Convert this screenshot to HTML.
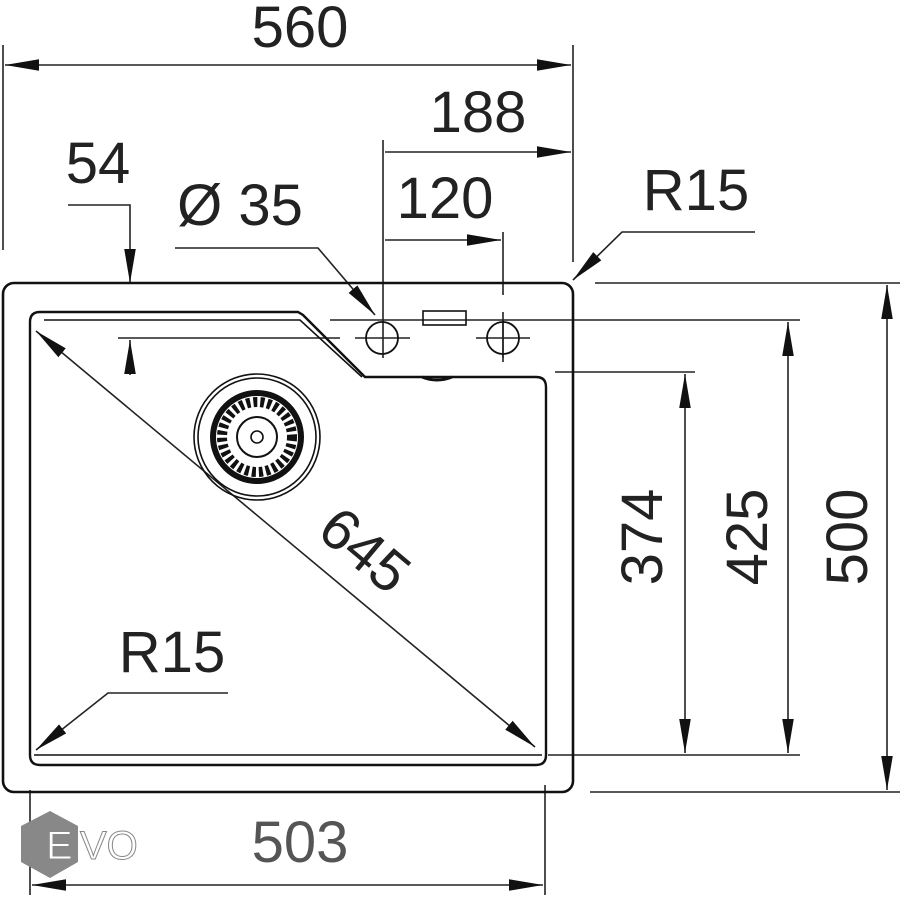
<!DOCTYPE html>
<html><head><meta charset="utf-8"><style>html,body{margin:0;padding:0;background:#fff}svg{display:block}</style></head>
<body>
<svg width="900" height="900" viewBox="0 0 900 900" xmlns="http://www.w3.org/2000/svg">
<defs>
<marker id="b" viewBox="0 0 10 10" refX="10" refY="5" markerWidth="34" markerHeight="34" markerUnits="userSpaceOnUse" orient="auto-start-reverse">
<path d="M0,3.3 L10,5 L0,6.7z" fill="#111"/></marker>
</defs>
<g fill="none" stroke="#222" stroke-width="1.6">
<line x1="3" y1="45" x2="3" y2="250"/>
<line x1="573" y1="45" x2="573" y2="262"/>
<line x1="383" y1="140" x2="383" y2="358"/>
<line x1="503" y1="232" x2="503" y2="295"/>
<line x1="503" y1="312" x2="503" y2="362"/>
<line x1="595" y1="283" x2="900" y2="283"/>
<line x1="590" y1="792" x2="900" y2="792"/>
<line x1="330" y1="320" x2="800" y2="320"/>
<line x1="555" y1="372" x2="695" y2="372"/>
<line x1="548" y1="755" x2="800" y2="755"/>
<line x1="30" y1="790" x2="30" y2="895"/>
<line x1="545" y1="785" x2="545" y2="895"/>
<line x1="118" y1="338" x2="340" y2="338"/>
<line x1="355" y1="338" x2="410" y2="338"/>
<line x1="476" y1="338" x2="530" y2="338"/>
<line x1="503" y1="320" x2="503" y2="358"/>
<line x1="5" y1="65" x2="571" y2="65" marker-start="url(#b)" marker-end="url(#b)"/>
<line x1="385" y1="152" x2="571" y2="152" marker-end="url(#b)"/>
<line x1="385" y1="240" x2="501" y2="240" marker-end="url(#b)"/>
<polyline points="68,205 130,205 130,283" marker-end="url(#b)"/>
<line x1="130" y1="375" x2="130" y2="340" marker-end="url(#b)"/>
<polyline points="175,248 318,248 375,315" marker-end="url(#b)"/>
<polyline points="755,232 622,232 573,280" marker-end="url(#b)"/>
<line x1="36" y1="331" x2="535" y2="747" marker-start="url(#b)" marker-end="url(#b)"/>
<polyline points="228,693 108,693 36,750" marker-end="url(#b)"/>
<line x1="685" y1="374" x2="685" y2="753" marker-start="url(#b)" marker-end="url(#b)"/>
<line x1="788" y1="322" x2="788" y2="753" marker-start="url(#b)" marker-end="url(#b)"/>
<line x1="887" y1="285" x2="887" y2="790" marker-start="url(#b)" marker-end="url(#b)"/>
<line x1="32" y1="885" x2="543" y2="885" marker-start="url(#b)" marker-end="url(#b)"/>
</g>
<g fill="none" stroke="#111">
<rect x="3" y="283" width="570" height="509" rx="11" stroke-width="2.6"/>
<path d="M40,312 L298,312 L303,315 L365,377 L536,377 Q546,377 546,387 L546,755 Q546,765 536,765 L40,765 Q30,765 30,755 L30,322 Q30,312 40,312Z" stroke-width="2.4"/>
<path d="M44,320 L300,320 L362,377" stroke-width="1.6"/>
<path d="M34,755 L542,755" stroke-width="1.4"/>
<rect x="423" y="311" width="43" height="14" stroke-width="1.6"/>
<circle cx="382" cy="338" r="16" stroke-width="1.8"/>
<circle cx="503" cy="338" r="16" stroke-width="1.8"/>
<path d="M422,377 Q437,383 452,377" stroke-width="3"/>
<circle cx="257" cy="437" r="63" stroke-width="1.6"/>
<circle cx="257" cy="437" r="59" stroke-width="1.6"/>
<circle cx="257" cy="437" r="44" stroke-width="6"/>
<circle cx="257" cy="437" r="35" stroke-width="10" stroke-dasharray="4 3"/>
<circle cx="257" cy="437" r="20" stroke-width="2"/>
<circle cx="257" cy="437" r="6" stroke-width="1.6"/>
</g>
<g font-family="Liberation Sans, sans-serif" font-size="58" fill="#222" text-anchor="middle">
<text x="300" y="47">560</text>
<text x="478" y="132">188</text>
<text x="445" y="218">120</text>
<text x="98" y="183">54</text>
<text x="240" y="225">Ø 35</text>
<text x="696" y="210">R15</text>
<text x="172" y="672">R15</text>
<text transform="translate(365,550) rotate(40)" dy="20">645</text>
<text transform="translate(662,537) rotate(-90)">374</text>
<text transform="translate(767,537) rotate(-90)">425</text>
<text transform="translate(867,537) rotate(-90)">500</text>
<text x="300" y="862" fill="#555">503</text>
</g>
<polygon points="50,811 78,826 78,862 50,878 21,862 21,826" fill="#888"/>
<g font-family="Liberation Sans, sans-serif" font-size="40" text-anchor="start">
<text x="46" y="859" fill="#fff" stroke="#888" stroke-width="1">E</text>
<text x="80" y="859" fill="#fff" stroke="#888" stroke-width="1">VO</text>
</g>
</svg>
</body></html>
